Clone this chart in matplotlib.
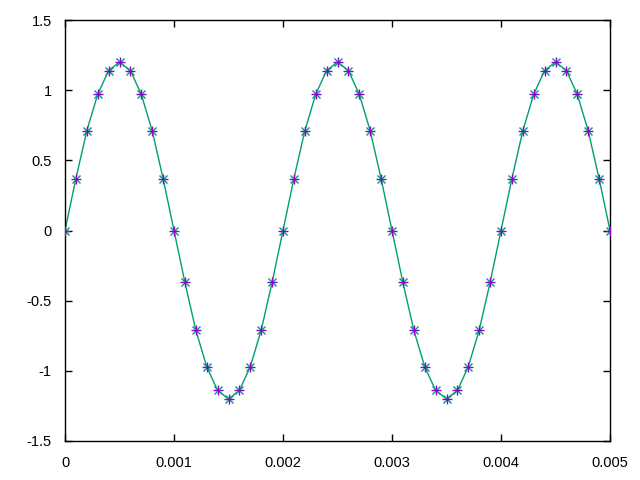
import matplotlib
matplotlib.use("Agg")
import matplotlib.pyplot as plt

# sample times (s) and values
t = [i * 0.0001 for i in range(51)]
quarter = [0.0, 0.37, 0.71, 0.97, 1.14, 1.2, 1.14, 0.97, 0.71, 0.37]
values = (quarter + [-v for v in quarter]) * 2 + quarter + [0.0]

xticks = [0, 0.001, 0.002, 0.003, 0.004, 0.005]
xticklabels = ["0", "0.001", "0.002", "0.003", "0.004", "0.005"]
yticks = [-1.5, -1, -0.5, 0, 0.5, 1, 1.5]
yticklabels = ["-1.5", "-1", "-0.5", "0", "0.5", "1", "1.5"]

plt.rcParams['font.family'] = ['Liberation Sans', 'DejaVu Sans']

fig = plt.figure(figsize=(6.4, 4.8), dpi=100)
ax = fig.add_axes([65 / 640, 39 / 480, 545 / 640, 421 / 480])

ax.plot(t, values, color="#009E73", linewidth=1.0, marker="x",
        markersize=6, markeredgewidth=1.0, zorder=2)
ax.plot(t, values, linestyle="none", color="#9400D3", marker="+",
        markersize=7, markeredgewidth=1.0, zorder=3)

ax.set_xlim(0, 0.005)
ax.set_ylim(-1.5, 1.5)
ax.set_xticks(xticks)
ax.set_xticklabels(xticklabels)
ax.set_yticks(yticks)
ax.set_yticklabels(yticklabels)
ax.tick_params(direction="in", length=5, width=1, top=True, right=True,
               labelsize=10.5)
ax.tick_params(axis="x", pad=10.5)
ax.tick_params(axis="y", pad=9.5)
for s in ax.spines.values():
    s.set_linewidth(1.0)

fig.savefig("out.png", dpi=100)
